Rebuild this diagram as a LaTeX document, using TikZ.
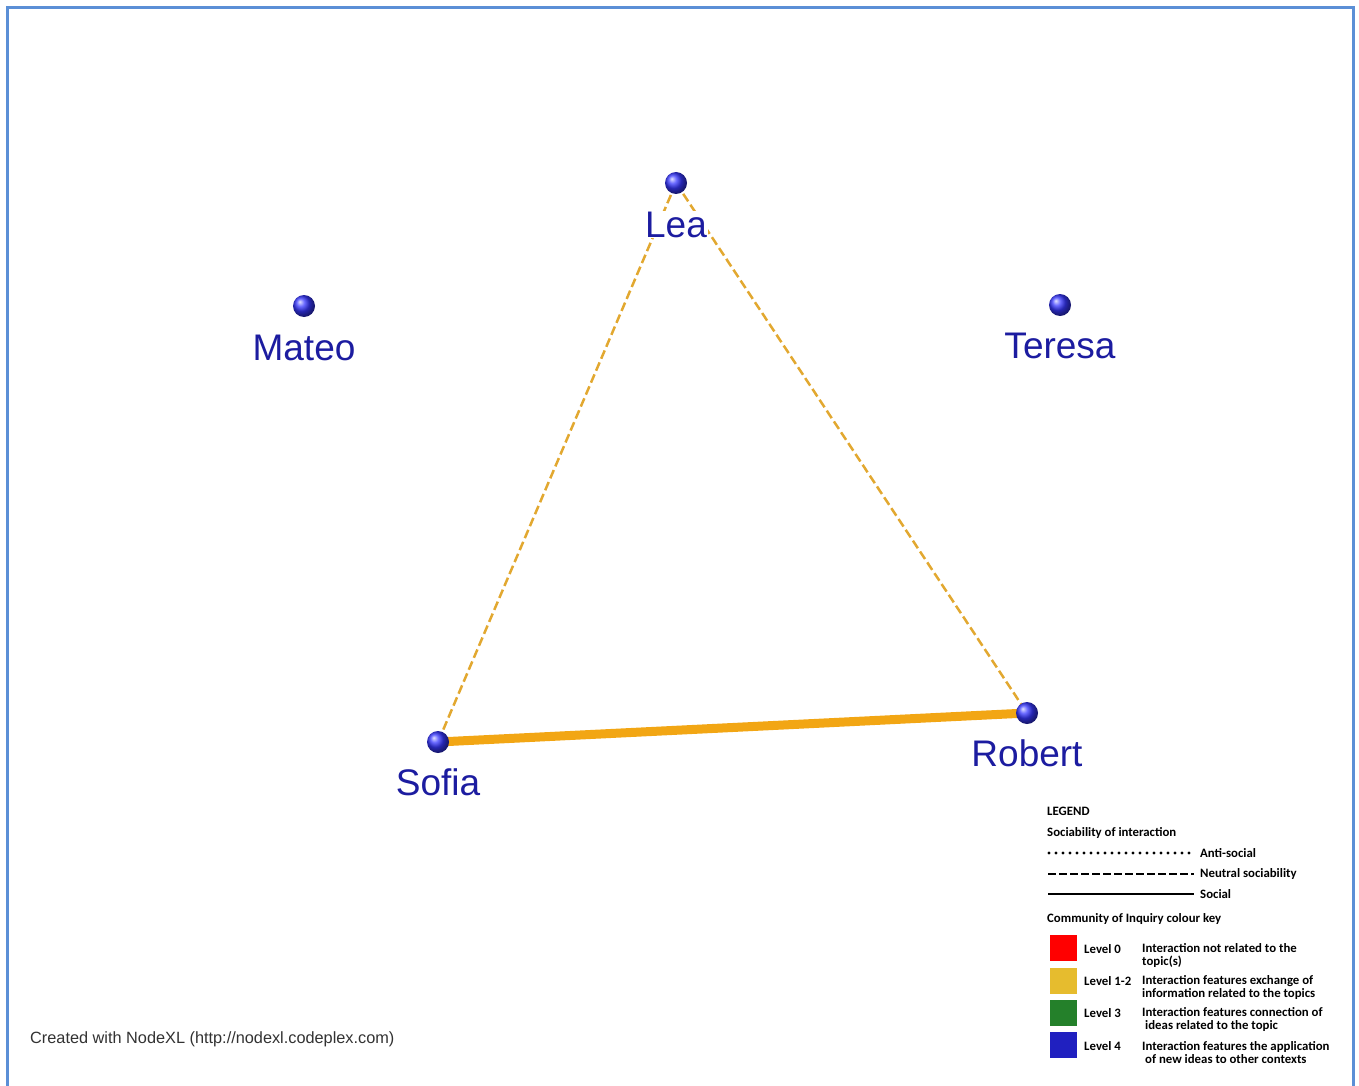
\documentclass[tikz,border=0pt]{standalone}
\usepackage{fontspec}
\setmainfont{Liberation Sans}
\newfontfamily\legfont{Carlito}
\usetikzlibrary{backgrounds}
\definecolor{frameblue}{RGB}{91,143,214}
\definecolor{lblblue}{RGB}{28,28,160}
\definecolor{edgeor}{RGB}{226,168,48}
\definecolor{thickor}{RGB}{242,166,20}
\definecolor{lvred}{RGB}{255,0,0}
\definecolor{lvyellow}{RGB}{230,188,46}
\definecolor{lvgreen}{RGB}{36,128,42}
\definecolor{lvblue}{RGB}{32,32,192}
\definecolor{ballblue}{RGB}{55,55,255}
\definecolor{credgrey}{RGB}{50,50,50}
\begin{document}
\begin{tikzpicture}[x=1pt,y=-1pt,
  vertex/.style={circle,minimum size=22pt,inner sep=0pt,ball color=ballblue},
  vlabel/.style={font=\fontsize{37}{40}\selectfont,text=lblblue,fill=white,inner sep=1pt,anchor=base},
  neutraledge/.style={edgeor,line width=2.5pt,dash pattern=on 9pt off 4pt},
  socialedge/.style={thickor,line width=9pt},
  legtext/.style={font=\legfont\bfseries\fontsize{12.8}{13}\selectfont,inner sep=0pt,anchor=west,align=left},
  legline/.style={line width=2.5pt,black},
  swatch/.style={minimum width=27pt,minimum height=26pt,inner sep=0pt,anchor=north west},
]
\useasboundingbox (0,0) rectangle (1359,1086);
\draw[frameblue,line width=3pt] (7,1090) -- (7,8) -- (1353,8) -- (1353,1090);

% vertices
\node[vertex] (lea) at (676,183) {};
\node[vertex] (mateo) at (304,306) {};
\node[vertex] (teresa) at (1060,305) {};
\node[vertex] (sofia) at (438,742) {};
\node[vertex] (robert) at (1027,713) {};

\node[vlabel] (lealbl) at (676,237) {Lea};
\node[vlabel] (mateolbl) at (304,360) {Mateo};
\node[vlabel] (teresalbl) at (1060,358) {Teresa};
\node[vlabel] (sofialbl) at (438,795) {Sofia};
\node[vlabel] (robertlbl) at (1027,766) {Robert};

\begin{scope}[on background layer]
\draw[neutraledge] (lea.center) -- (sofia.center);
\draw[neutraledge] (lea.center) -- (robert.center);
\draw[socialedge] (sofia.center) -- (robert.center);
\end{scope}

\node[font=\fontsize{16.3}{18}\selectfont,text=credgrey,inner sep=0pt,anchor=base west] (credit) at (30,1043) {Created with NodeXL (http://nodexl.codeplex.com)};

% legend
\node[legtext] (leghead) at (1047,811) {LEGEND};
\node[legtext] (sochead) at (1047,833) {Sociability of interaction};
\coordinate (d1) at (1049,853);
\coordinate (d2) at (1194,853);
\coordinate (n1) at (1048,874);
\coordinate (n2) at (1194,874);
\coordinate (s1) at (1048,894);
\coordinate (s2) at (1194,894);
\draw[line width=3.2pt,black,line cap=round,dash pattern=on 0pt off 7pt] (d1) -- (d2);
\draw[legline,dash pattern=on 8pt off 3pt] (n1) -- (n2);
\draw[legline] (s1) -- (s2);
\node[legtext] (antisoc) at (1200,853) {Anti-social};
\node[legtext] (neutral) at (1200,874) {Neutral sociability};
\node[legtext] (social) at (1200,894) {Social};
\node[legtext] (coihead) at (1047,919) {Community of Inquiry colour key};

\node[swatch,fill=lvred] (sw0) at (1050,935) {};
\node[swatch,fill=lvyellow] (sw1) at (1050,968) {};
\node[swatch,fill=lvgreen] (sw3) at (1050,1000) {};
\node[swatch,fill=lvblue] (sw4) at (1050,1032) {};

\node[legtext] (lv0) at (1084,949) {Level 0};
\node[legtext] (lv1) at (1084,981) {Level 1-2};
\node[legtext] (lv3) at (1084,1013) {Level 3};
\node[legtext] (lv4) at (1084,1046) {Level 4};

\node[legtext] (ds0) at (1142,955.5) {Interaction not related to the\\topic(s)};
\node[legtext] (ds1) at (1142,987.5) {Interaction features exchange of\\information related to the topics};
\node[legtext] (ds3) at (1142,1019.5) {Interaction features connection of\\\hspace{3pt}ideas related to the topic};
\node[legtext] (ds4) at (1142,1052.5) {Interaction features the application\\\hspace{3pt}of new ideas to other contexts};
\end{tikzpicture}
\end{document}
